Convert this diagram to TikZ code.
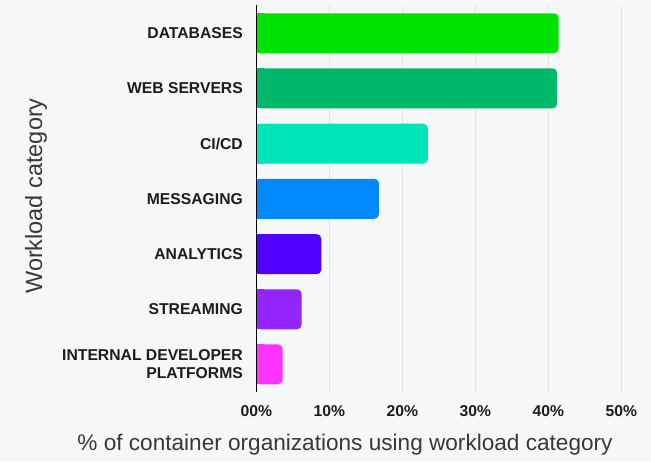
\documentclass[tikz,border=0pt]{standalone}
\usepackage{fontspec}
\setmainfont{Liberation Sans}
\definecolor{bgc}{HTML}{F6F7F9}
\definecolor{gridc}{HTML}{E2E3E7}
\definecolor{txtc}{HTML}{1C1C1C}
\definecolor{ttlc}{HTML}{383838}
\definecolor{cdb}{HTML}{00E100}
\definecolor{cweb}{HTML}{00B86B}
\definecolor{ccicd}{HTML}{00E5B8}
\definecolor{cmsg}{HTML}{0088FF}
\definecolor{cana}{HTML}{5200FF}
\definecolor{cstr}{HTML}{9326FF}
\definecolor{cidp}{HTML}{FF33FF}
\tikzset{
  catlabel/.style={anchor=east, inner sep=0pt, text=txtc, align=right,
    font=\fontsize{15.7}{18}\selectfont\bfseries},
  ticklabel/.style={anchor=center, inner sep=0pt, text=txtc,
    font=\fontsize{15.7}{18}\selectfont\bfseries},
  axtitle/.style={inner sep=0pt, text=ttlc},
  gridline/.style={draw=gridc, line width=0.8pt},
  axisline/.style={draw=black, line width=1.6pt},
}
\begin{document}
\begin{tikzpicture}[x=1pt,y=-1pt]
\useasboundingbox (0,0) rectangle (651,461);
\fill[bgc] (0,0) rectangle (651,461);
% grid lines
\foreach \i in {1,...,5}{
  \draw[gridline] (256.3+73*\i,5) -- (256.3+73*\i,392);
}
% bars
\foreach \nm/\v/\c/\yc in {db/41.4/cdb/33.3, web/41.2/cweb/88.3, cicd/23.5/ccicd/143.7,
  msg/16.8/cmsg/198.8, ana/8.9/cana/254.2, str/6.2/cstr/309.3, idp/3.6/cidp/364.3}{
  \fill[\c, rounded corners=4.5pt] (256.3,\yc-20) rectangle (256.3+7.3*\v,\yc+20);
  \fill[\c] (256.3,\yc-20) rectangle (264,\yc+20);
}
% axis
\draw[axisline] (256.3,5) coordinate (axtop) -- (256.3,392) coordinate (axbot);
% category labels
\node[catlabel] (ldb) at (243,33.3) {DATABASES};
\node[catlabel] (lweb) at (243,88.3) {WEB SERVERS};
\node[catlabel] (lcicd) at (243,143.7) {CI/CD};
\node[catlabel] (lmsg) at (243,198.8) {MESSAGING};
\node[catlabel] (lana) at (243,254.2) {ANALYTICS};
\node[catlabel] (lstr) at (243,309.3) {STREAMING};
\node[catlabel] (lidp) at (243,364) {INTERNAL DEVELOPER\\PLATFORMS};
% tick labels
\foreach \i in {0,...,5}{
  \node[ticklabel] (t\i) at (256.3+73*\i,411) {\i0\%};
}
% axis titles
\node[axtitle, anchor=center, font=\fontsize{22.6}{26}\selectfont] (xtitle) at (345,445) {\% of container organizations using workload category};
\node[axtitle, anchor=center, rotate=90, font=\fontsize{23.5}{27}\selectfont] (ytitle) at (36,196) {Workload category};
\end{tikzpicture}
\end{document}
